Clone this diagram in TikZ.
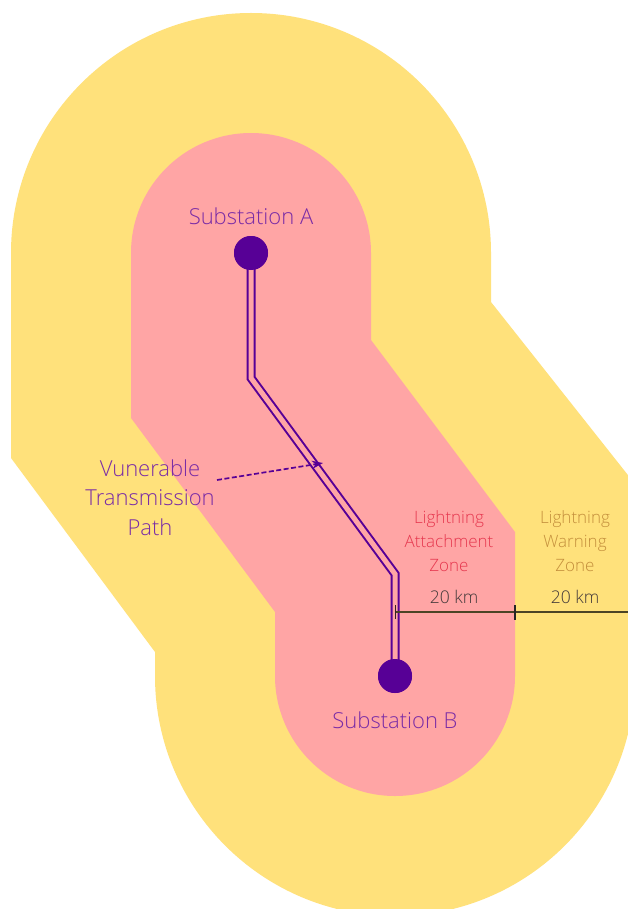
\documentclass[tikz,border=0pt]{standalone}
\usepackage{fontspec}
\setmainfont{Open Sans Light}
\usetikzlibrary{arrows.meta}
\definecolor{warnfill}{HTML}{FFE17B}
\definecolor{attfill}{HTML}{FFA5A5}
\definecolor{linepurple}{HTML}{570096}
\definecolor{labpurple}{HTML}{7A2CA6}
\definecolor{attred}{HTML}{E6384F}
\definecolor{warntext}{HTML}{C48F3C}
\definecolor{dimgrey}{HTML}{443A3A}
\tikzset{
  x=1pt,y=-1pt,
  zonelabel/.style={align=center,font=\fontsize{17}{24}\selectfont,inner sep=0pt},
  sublabel/.style={text=labpurple,font=\fontsize{22}{29.7}\selectfont,inner sep=0pt,align=center},
  station/.style={circle,fill=linepurple,minimum size=34pt,inner sep=0pt},
  dimlabel/.style={text=dimgrey,font=\fontsize{17.5}{20}\selectfont,inner sep=0pt},
  dimline/.style={draw=black!70!warnfill,line width=1.5pt},
}
\begin{document}
\begin{tikzpicture}
\useasboundingbox (0,0) rectangle (628,909);
\fill[white] (0,0) rectangle (628,909);
\begin{scope}
\clip (0,0) rectangle (628,909);
% warning zone
\fill[warnfill] (11,253) arc[start angle=180,end angle=0,radius=240pt]
  -- (491,302) -- (635,484) -- (635,676)
  arc[start angle=0,end angle=-180,radius=240pt]
  -- (155,652) -- (11,458) -- cycle;
% attachment zone
\fill[attfill] (131,253) arc[start angle=180,end angle=0,radius=120pt]
  -- (371,340) -- (515,532) -- (515,676)
  arc[start angle=0,end angle=-180,radius=120pt]
  -- (275,612) -- (131,418) -- cycle;
\end{scope}
% transmission path
\node[station] (subA) at (251,253) {};
\node[station] (subB) at (395,676) {};
\coordinate (bendA) at (251,378);
\coordinate (bendB) at (395,574);
\draw[double=attfill,draw=linepurple,line width=2pt,double distance=5pt,line join=miter]
  (subA.center) -- (bendA) -- (bendB) -- (subB.center);
\node[station] at (subA) {};
\node[station] at (subB) {};
% labels
\node[sublabel] (labA) at (251,216.5) {Substation A};
\node[sublabel] (labB) at (395,720.5) {Substation B};
\node[sublabel] (path) at (150,497.5) {Vunerable\\Transmission\\Path};
\coordinate (pathstart) at (217,480);
\coordinate (pathend) at (323,463);
\draw[linepurple,line width=1.7pt,dash pattern=on 5pt off 2.5pt,-{Stealth[length=11pt,width=8pt]}] (pathstart) -- (pathend);
\node[zonelabel,text=attred] (attlab) at (449,541.5) {Lightning\\Attachment\\Zone};
\node[zonelabel,text=warntext] (warnlab) at (575,541.5) {Lightning\\Warning\\Zone};
\node[dimlabel] (dimA) at (454,597) {20 km};
\node[dimlabel] (dimB) at (575,597) {20 km};
% dimension line
\coordinate (dimstart) at (395,612);
\coordinate (dimmid) at (515,612);
\coordinate (dimend) at (628,612);
\draw[dimline] (dimstart) -- (dimmid) -- (dimend);
\draw[black!80!attfill,line width=1pt] (395,605) -- (395,619);
\draw[black!85,line width=2.2pt] (515,605) -- (515,620);
\end{tikzpicture}
\end{document}
